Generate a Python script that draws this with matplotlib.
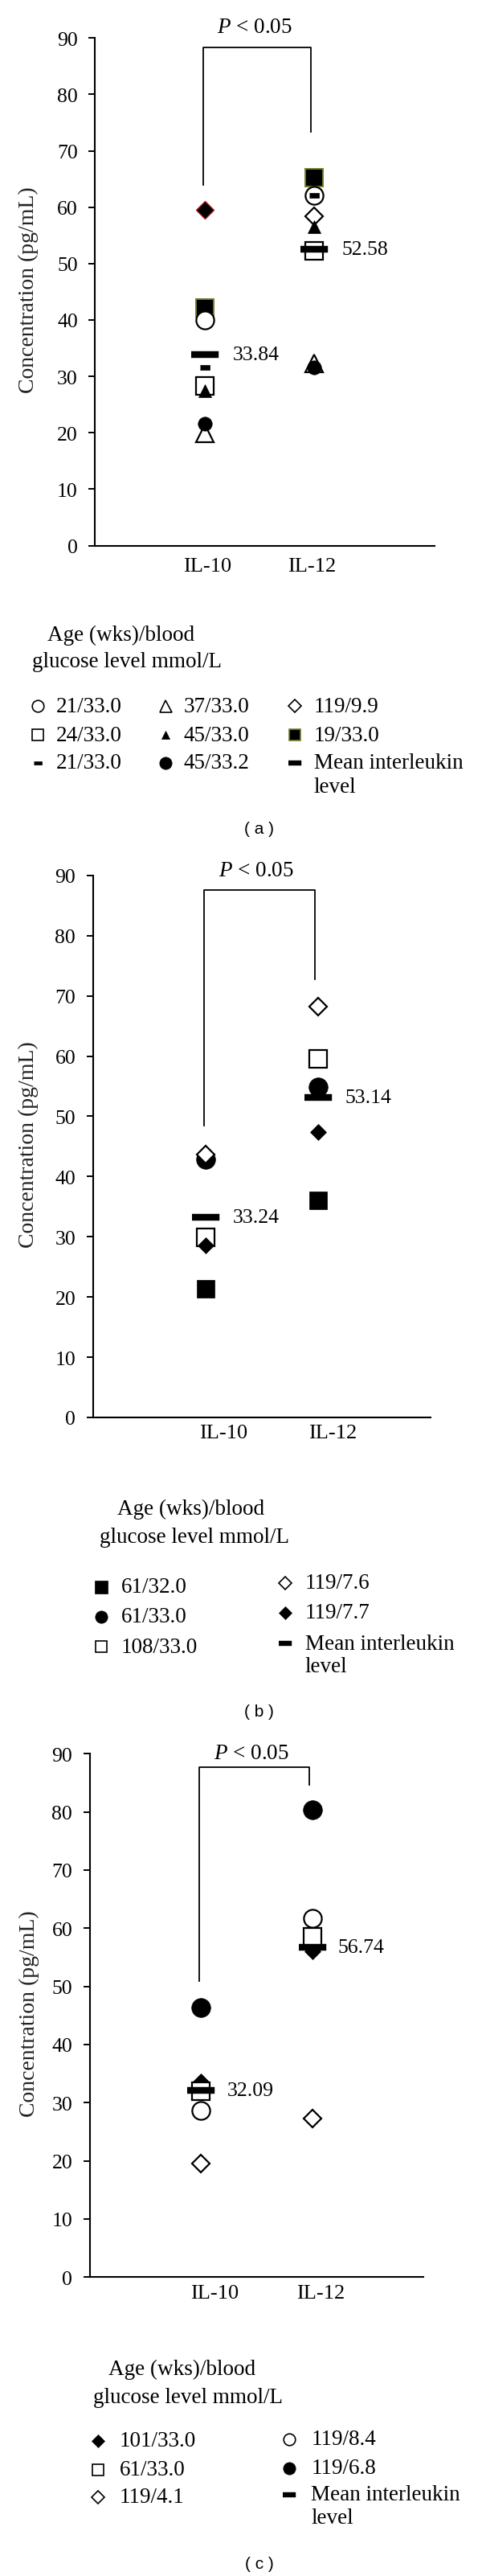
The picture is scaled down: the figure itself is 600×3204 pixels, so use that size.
import numpy as np
import matplotlib
matplotlib.use("Agg")
import matplotlib.pyplot as plt

plt.rcParams['font.family'] = ['Liberation Serif', 'DejaVu Serif']
plt.rcParams['mathtext.fontset'] = 'custom'
plt.rcParams['mathtext.it'] = 'Liberation Serif:italic'
plt.rcParams['mathtext.rm'] = 'Liberation Serif'

W, H, DPI = 600, 3205, 100

categories = ["IL-10", "IL-12"]

# panel (a)
a_groups = ["21/33.0", "24/33.0", "21/33.0", "37/33.0", "45/33.0", "45/33.2", "119/9.9", "19/33.0"]
a_il10 = [40.0, 28.3, 31.6, 19.9, 27.5, 21.6, 59.6, 42.1]
a_il12 = [62.1, 52.3, 62.1, 32.3, 56.6, 31.6, 58.4, 65.2]
a_means = [33.84, 52.58]

# panel (b)
b_groups = ["61/32.0", "61/33.0", "108/33.0", "119/7.6", "119/7.7"]
b_il10 = [21.3, 42.9, 29.9, 43.6, 28.6]
b_il12 = [36.0, 54.8, 59.5, 68.2, 47.4]
b_means = [33.24, 53.14]

# panel (c)
c_groups = ["101/33.0", "61/33.0", "119/4.1", "119/8.4", "119/6.8"]
c_il10 = [33.6, 32.0, 19.6, 28.7, 46.3]
c_il12 = [56.0, 58.5, 27.3, 61.7, 80.4]
c_means = [32.09, 56.74]

MEAN_LABEL = "Mean interleukin\nlevel"
TITLE = ["Age (wks)/blood", "glucose level mmol/L"]

# marker shapes
MEAN_BAR = [(-1, -0.24), (1, -0.24), (1, 0.24), (-1, 0.24)]
MEAN_BAR_LEG = [(-1, -0.36), (1, -0.36), (1, 0.36), (-1, 0.36)]
DASH = [(-1, -0.5), (1, -0.5), (1, 0.5), (-1, 0.5)]

# name: (marker, size in chart, size in legend, face, edge, edge width)
STYLES = {
    "open_circle": ("o", 16, 10.5, "white", "black", 1.6),
    "open_square": ("s", 16, 10.5, "white", "black", 1.6),
    "dash": (DASH, 8.5, 6.5, "black", "black", 0.5),
    "open_tri": ("^", 16, 10.8, "white", "black", 1.6),
    "small_tri": ("^", 11, 7.5, "black", "black", 0.5),
    "small_dot": ("o", 12.5, 11, "black", "black", 0.5),
    "dot": ("o", 17, 11, "black", "black", 0.5),
    "open_diamond": ("D", 11, 7.8, "white", "black", 1.6),
    "diamond": ("D", 10.5, 7.8, "black", "black", 0.5),
    "red_diamond": ("D", 11, 7.8, "black", "#a3181c", 1.0),
    "square": ("s", 16.5, 11, "black", "black", 0.5),
    "green_square": ("s", 16, 10.5, "black", "#6f7f2a", 1.4),
}

a_marks = ["open_circle", "open_square", "dash", "open_tri", "small_tri", "small_dot", "open_diamond", "green_square"]
a_marks_il10 = ["open_circle", "open_square", "dash", "open_tri", "small_tri", "small_dot", "red_diamond", "green_square"]
a_z = [4, 3, 6, 3, 5, 5, 2, 2]
b_marks = ["square", "dot", "open_square", "open_diamond", "diamond"]
b_z = [3, 3, 3, 4, 5]
c_marks = ["diamond", "open_square", "open_diamond", "open_circle", "dot"]
c_z = [3, 4, 3, 3, 3]


def px_axes(fig, left, right, top, bottom):
    return fig.add_axes([left / W, 1 - bottom / H, (right - left) / W, (bottom - top) / H])


def draw_panel(ax, il10, il12, marks10, marks12, zs, means, xmax, tick_x, tick_pad,
               label_dx, bracket, p_xy, ylab_x):
    for vals, marks, x in [(il10, marks10, 1), (il12, marks12, 2)]:
        for v, m, z in zip(vals, marks, zs):
            mk, ms, _, fc, ec, ew = STYLES[m]
            ax.plot([x], [v], linestyle="none", marker=mk, ms=ms, mfc=fc, mec=ec,
                    mew=ew, zorder=z, clip_on=False)
    ax.plot([1, 2], means, linestyle="none", marker=MEAN_BAR, ms=24.5, mfc="black",
            mec="black", mew=0.3, zorder=7)
    for x, m in zip([1, 2], means):
        ax.text(x + label_dx, m, f"{m:.2f}", fontsize=18.5, va="center", ha="left")

    lo, top, hi = bracket
    ax.plot([0.985, 0.985, 1.975, 1.975], [lo, top, top, hi], color="black", lw=1.3,
            clip_on=False, zorder=1)
    ax.text(p_xy[0], p_xy[1], r"$P$ < 0.05", fontsize=19.5, ha="center", va="center")

    ax.set_xlim(0, xmax)
    ax.set_ylim(0, 90)
    ax.set_yticks(np.arange(0, 91, 10))
    ax.set_xticks(tick_x)
    ax.set_xticklabels(categories, fontsize=19)
    ax.tick_params(axis="x", length=0, pad=tick_pad)
    ax.tick_params(axis="y", direction="out", length=6, width=1.4, pad=9.5, labelsize=18.5)
    for s in ["top", "right"]:
        ax.spines[s].set_visible(False)
    for s in ["left", "bottom"]:
        ax.spines[s].set_linewidth(1.5)
    ax.set_ylabel("Concentration (pg/mL)", fontsize=20, color="#222222")
    ax.yaxis.set_label_coords(ylab_x, 0.505)


def draw_legend(lax, title_pos, groups, marks, cols, rows_by_col, caption, cap_y):
    (tx1, ty1), (tx2, ty2) = title_pos
    lax.text(tx1, ty1, TITLE[0], fontsize=19.5, ha="center", va="center")
    lax.text(tx2, ty2, TITLE[1], fontsize=19.5, ha="center", va="center")
    entries = [(g, m) for g, m in zip(groups, marks)] + [(MEAN_LABEL, "mean")]
    k = 0
    for (mx, txt_x), rows in zip(cols, rows_by_col):
        for y in rows:
            label, m = entries[k]
            k += 1
            if m == "mean":
                lax.plot([mx], [y], linestyle="none", marker=MEAN_BAR_LEG, ms=12,
                         mfc="black", mec="black", mew=0.3)
            else:
                mk, _, lms, fc, ec, ew = STYLES[m]
                lax.plot([mx], [y], linestyle="none", marker=mk, ms=lms, mfc=fc, mec=ec,
                         mew=min(ew, 1.2))
            for j, line in enumerate(label.split("\n")):
                lax.text(txt_x, y + j * 29, line, fontsize=19.5, ha="left", va="center")
    lax.text(322.6, cap_y, caption, fontsize=15, ha="center", va="center",
             family=["Liberation Sans", "DejaVu Sans"])


fig = plt.figure(figsize=(W / DPI, H / DPI), dpi=DPI)

lax = fig.add_axes([0, 0, 1, 1], zorder=-1)
lax.set_xlim(0, W)
lax.set_ylim(H, 0)
lax.axis("off")

ax_a = px_axes(fig, 118.3, 540.7, 48.3, 679.5)
draw_panel(ax_a, a_il10, a_il12, a_marks_il10, a_marks, a_z, a_means, 3.1, [1.03, 1.98], 10.4,
           0.255, (64.0, 88.4, 73.4), (1.457, 91.9), -0.166)

ax_b = px_axes(fig, 115.7, 535.7, 1089.8, 1764)
draw_panel(ax_b, b_il10, b_il12, b_marks, b_marks, b_z, b_means, 3.0, [1.157, 2.133], 6,
           0.24, (48.5, 87.6, 72.7), (1.45, 90.9), -0.16)

ax_c = px_axes(fig, 111.7, 527.3, 2182.3, 2833.3)
draw_panel(ax_c, c_il10, c_il12, c_marks, c_marks, c_z, c_means, 3.0, [1.124, 2.076], 6,
           0.232, (50.9, 87.7, 84.7), (1.456, 90.1), -0.152)

draw_legend(lax, [(151, 790), (158, 824)], a_groups, a_marks,
            [(46.7, 69.3), (205.7, 228.7), (366.7, 390.7)],
            [[879.3, 915, 950], [879.3, 915, 950], [879.3, 915, 950]], "( a )", 1032)
draw_legend(lax, [(238, 1877), (242, 1913)], b_groups, b_marks,
            [(126.3, 151), (355, 380)],
            [[1975, 2011.7, 2049.3], [1970, 2006.7, 2045]], "( b )", 2130)
draw_legend(lax, [(227, 2947), (234.5, 2983)], c_groups, c_marks,
            [(121.7, 148.5), (359.7, 387.3)],
            [[3037, 3073, 3107], [3035, 3071, 3104]], "( c )", 3190)

fig.savefig("out.png", dpi=DPI)
